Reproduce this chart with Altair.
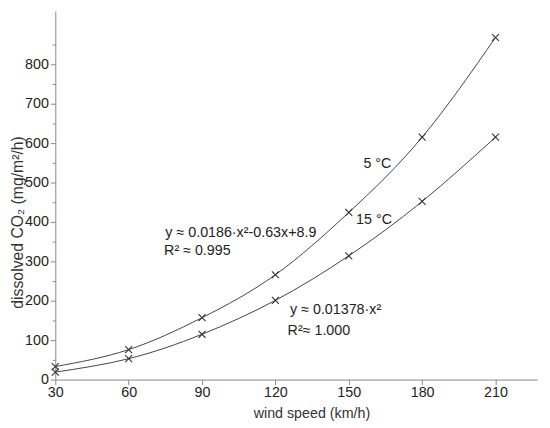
import altair as alt
import pandas as pd

wind = [30, 60, 90, 120, 150, 180, 210]
co2_5 = [33, 76, 157, 266, 424, 615, 868]
co2_15 = [19, 53, 115, 201, 314, 452, 615]

ann_text = ["5 °C", "15 °C", "y ≈ 0.0186·x²-0.63x+8.9", "R² ≈ 0.995", "y ≈ 0.01378·x²", "R²≈ 1.000"]
ann_x = [156, 153, 75, 74.5, 126, 125]
ann_y = [548, 405, 373, 326, 176, 124]

df = pd.DataFrame({
    "wind": wind * 2,
    "co2": co2_5 + co2_15,
    "series": ["5"] * len(wind) + ["15"] * len(wind),
})
ann = pd.DataFrame({"t": ann_text, "x": ann_x, "y": ann_y})

FONT = "Liberation Sans"
GRAY = "#444444"

xs = alt.Scale(domain=[30, 227], nice=False, zero=False)
ys = alt.Scale(domain=[0, 935], nice=False)

xaxis = alt.Axis(values=[30, 60, 90, 120, 150, 180, 210], grid=False, title="wind speed (km/h)",
                 domainColor="#888", tickColor="#888", tickSize=5, labelFontSize=14.5,
                 labelColor="#222", titleFontSize=14.5, titleFontWeight="normal", titleColor="#333",
                 labelFont=FONT, titleFont=FONT, titlePadding=8, labelPadding=1, labelFlush=False,
                 titleX=260)
yaxis = alt.Axis(values=list(range(0, 900, 100)), grid=False, title="dissolved CO₂  (mg/m²/h)",
                 domainColor="#888", tickColor="#888", tickSize=5, labelFontSize=14.5,
                 labelColor="#222", titleFontSize=16, titleFontWeight="normal", titleColor="#333",
                 labelFont=FONT, titleFont=FONT, labelPadding=2, orient="left",
                 titleX=-33, titleY=214, titleBaseline="alphabetic", labelFlush=False)
yminor = alt.Axis(values=list(range(50, 900, 100)), grid=False, title=None, labels=False,
                  domain=False, tickColor="#888", tickSize=3, orient="left")

XSHAPE = "M-1,-1L1,1M-1,1L1,-1"

base = alt.Chart(df)
lines = base.mark_line(interpolate="natural", color=GRAY, strokeWidth=1).encode(
    x=alt.X("wind:Q", scale=xs, axis=xaxis),
    y=alt.Y("co2:Q", scale=ys, axis=yaxis),
    detail="series:N",
)
pts = base.mark_point(shape=XSHAPE, size=50, color="#333", strokeWidth=1.1, filled=False, opacity=1).encode(
    x=alt.X("wind:Q", scale=xs, axis=xaxis),
    y=alt.Y("co2:Q", scale=ys, axis=yminor),
)
texts = alt.Chart(ann).mark_text(align="left", baseline="middle", fontSize=14.5, font=FONT, color="#222").encode(
    x=alt.X("x:Q", scale=xs, axis=xaxis),
    y=alt.Y("y:Q", scale=ys, axis=None),
    text="t:N",
)

chart = alt.layer(lines, pts, texts).resolve_axis(y="independent").properties(
    width=489, height=374,
    autosize=alt.AutoSizeParams(type="none"),
    padding={"left": 48, "top": 0, "right": 5, "bottom": 46},
).configure_view(stroke=None)

chart.save("out.html", embed_options={"renderer": "svg", "actions": False})
